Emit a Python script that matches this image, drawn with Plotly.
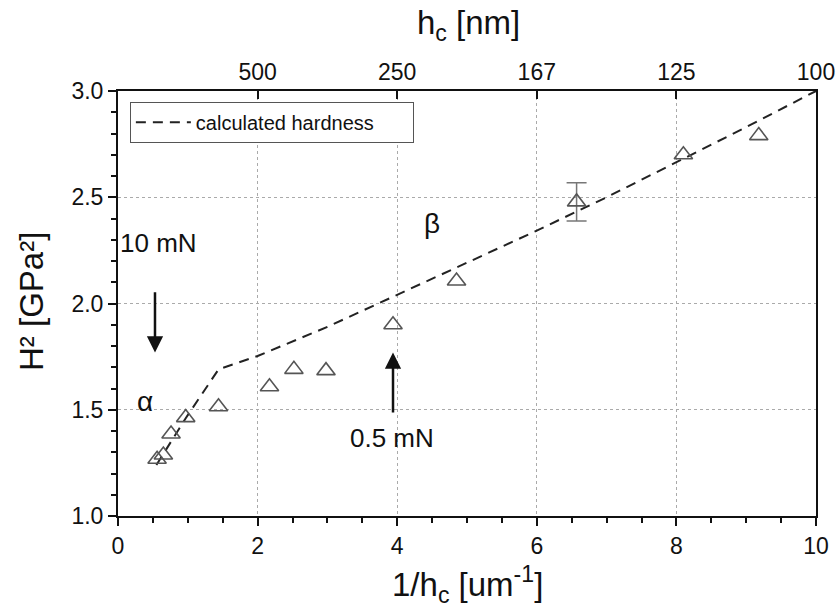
import plotly.graph_objects as go

# measured data (open triangles)
inv_hc = [0.56, 0.65, 0.76, 0.97, 1.44, 2.17, 2.52, 2.98, 3.94, 4.85, 6.57, 8.10, 9.18]
h2 = [1.267, 1.287, 1.386, 1.463, 1.514, 1.608, 1.69, 1.684, 1.90, 2.106, 2.478, 2.70, 2.79]
# error bar (only on one point)
err_x = [6.57]
err_y = [2.478]
err_val = [0.09]

# calculated hardness (dashed)
calc_x = [0.55, 0.97, 1.44, 2.0, 3.0, 4.0, 5.0, 6.0, 7.0, 8.0, 9.0, 10.0]
calc_y = [1.24, 1.46, 1.69, 1.753, 1.89, 2.04, 2.19, 2.343, 2.50, 2.665, 2.83, 3.0]

top_tickvals = [2, 4, 6, 8, 10]
top_ticktext = ["500", "250", "167", "125", "100"]

FONT = "Liberation Sans, Arial, sans-serif"
INK = "#111111"
fig = go.Figure()

fig.add_trace(go.Scatter(
    x=calc_x, y=calc_y, mode="lines", name="calculated hardness" + "\u00a0" * 6,
    line=dict(color="#222222", width=2, dash="10px,7px"), showlegend=True))

fig.add_trace(go.Scatter(
    x=err_x, y=err_y, mode="markers", showlegend=False,
    marker=dict(size=1, opacity=0),
    error_y=dict(type="data", array=err_val, color="#777777", thickness=1.5, width=10)))

fig.add_trace(go.Scatter(
    x=inv_hc, y=h2, mode="markers", showlegend=False,
    marker=dict(symbol="triangle-up-open", size=16, color="#555555", line=dict(width=1.6))))

# invisible trace for the top axis
fig.add_trace(go.Scatter(x=[0, 10], y=[1, 1], xaxis="x2", mode="markers",
                         marker=dict(opacity=0), showlegend=False, hoverinfo="skip"))

ann_font = dict(family=FONT, size=26, color=INK)
greek_font = dict(family=FONT, size=28, color=INK)
title_font = dict(family=FONT, size=33, color=INK)
annotations = [
    dict(x=0.53, y=1.77, ax=0.53, ay=2.06, xref="x", yref="y", axref="x", ayref="y",
         showarrow=True, arrowhead=2, arrowsize=1.3, arrowwidth=2.5, arrowcolor=INK, text=""),
    dict(x=3.94, y=1.77, ax=3.94, ay=1.48, xref="x", yref="y", axref="x", ayref="y",
         showarrow=True, arrowhead=2, arrowsize=1.3, arrowwidth=2.5, arrowcolor=INK, text=""),
    dict(x=0.58, y=2.285, xref="x", yref="y", text="10 mN", showarrow=False, font=ann_font),
    dict(x=3.93, y=1.365, xref="x", yref="y", text="0.5 mN", showarrow=False, font=ann_font),
    dict(x=0.39, y=1.54, xref="x", yref="y", text="α", showarrow=False, font=greek_font),
    dict(x=4.5, y=2.375, xref="x", yref="y", text="β", showarrow=False, font=greek_font),
    # axis titles (pixel positions, converted below)
    dict(x=467, y=584, xref="paper", yref="paper", text="1/h<sub>c</sub> [um<sup>-1</sup>]",
         showarrow=False, font=title_font, xanchor="center", yanchor="middle"),
    dict(x=468, y=25, xref="paper", yref="paper", text="h<sub>c</sub> [nm]",
         showarrow=False, font=title_font, xanchor="center", yanchor="middle"),
    dict(x=31, y=302, xref="paper", yref="paper", text="H² [GPa²]", textangle=-90,
         showarrow=False, font=title_font, xanchor="center", yanchor="middle"),
]
L, R, T, B, W, H = 118, 22, 91, 97, 838, 613
pw, ph = W - L - R, H - T - B
for a in annotations[-3:]:
    a["x"] = (a["x"] - L) / pw
    a["y"] = 1 - (a["y"] - T) / ph

tickfont = dict(family=FONT, size=23, color=INK)
fig.update_layout(
    width=W, height=H,
    margin=dict(l=L, r=R, t=T, b=B),
    paper_bgcolor="white", plot_bgcolor="white",
    font=dict(family=FONT, color=INK),
    annotations=annotations,
    legend=dict(x=0.017, y=0.975, xanchor="left", yanchor="top",
                bordercolor="#555555", borderwidth=1, bgcolor="white",
                font=dict(family=FONT, size=20, color=INK),
                itemwidth=55, tracegroupgap=0),
    xaxis=dict(range=[0, 10], tick0=0, dtick=2, ticks="outside", ticklen=8,
               tickwidth=1.5, tickcolor=INK, showline=True, linecolor=INK,
               linewidth=2, mirror=False, tickfont=tickfont, zeroline=False, automargin=False,
               showgrid=True, gridcolor="#aaaaaa", griddash="dot", gridwidth=1,
               minor=dict(dtick=0.5, tick0=0, ticks="outside", ticklen=5, tickwidth=1.5,
                          tickcolor=INK, showgrid=False)),
    xaxis2=dict(range=[0, 10], overlaying="x", side="top", anchor="y",
                tickvals=top_tickvals, ticktext=top_ticktext, ticks="inside", ticklen=8,
                tickwidth=1.5, tickcolor=INK, showline=True, linecolor=INK, automargin=False,
                linewidth=2, tickfont=tickfont, showgrid=False, zeroline=False),
    yaxis=dict(range=[1.0, 3.0], tick0=1.0, dtick=0.5, tickformat=".1f",
               ticks="outside", ticklen=8, tickwidth=1.5, tickcolor=INK,
               showline=True, linecolor=INK, linewidth=2, mirror=True,
               tickfont=tickfont, zeroline=False, automargin=False,
               showgrid=True, gridcolor="#aaaaaa", griddash="dot", gridwidth=1,
               minor=dict(dtick=0.1, tick0=1.0, ticks="outside", ticklen=5, tickwidth=1.5,
                          tickcolor=INK, showgrid=False)),
)

fig.write_html("out.html")
